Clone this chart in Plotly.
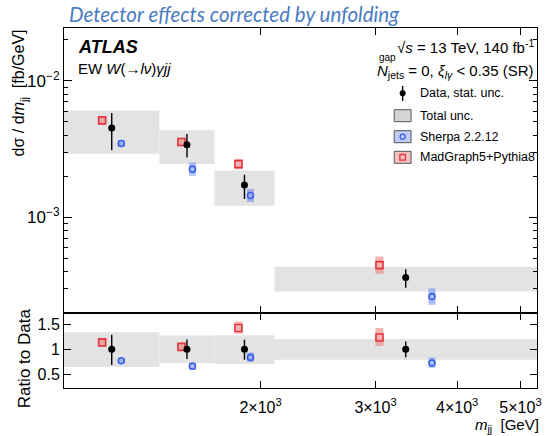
import numpy as np
import plotly.graph_objects as go

# ---------------- data ----------------
bin_edges = [1000, 1400, 1700, 2100, 5300]
data_y = [4.51e-3, 3.40e-3, 1.72e-3, 3.60e-4]
data_stat_up = [5.82e-3, 4.07e-3, 2.05e-3, 4.15e-4]
data_stat_down = [3.09e-3, 2.74e-3, 1.36e-3, 3.03e-4]
data_tot_up = [6.05e-3, 4.34e-3, 2.20e-3, 4.33e-4]
data_tot_down = [2.92e-3, 2.45e-3, 1.21e-3, 2.84e-4]
sherpa_y = [3.47e-3, 2.25e-3, 1.44e-3, 2.61e-4]
sherpa_up = [3.68e-3, 2.52e-3, 1.61e-3, 3.00e-4]
sherpa_down = [3.27e-3, 2.01e-3, 1.29e-3, 2.27e-4]
mg_y = [5.13e-3, 3.56e-3, 2.45e-3, 4.44e-4]
mg_up = [5.44e-3, 3.82e-3, 2.67e-3, 5.13e-4]
mg_down = [4.83e-3, 3.31e-3, 2.25e-3, 3.84e-4]
x_tickvals = [2000, 3000, 4000, 5000]
x_ticktext = ["2×10<sup>3</sup>", "3×10<sup>3</sup>", "4×10<sup>3</sup>", "5×10<sup>3</sup>"]

# ---------------- styling ----------------
W, H = 547, 436
ML, MR, MT, MB = 64, 6, 28, 48
PW, PH = W - ML - MR, H - MT - MB
split = (H - MB - 312.5) / PH
FONT = "Liberation Sans"
GRAY = "#e3e3e3"
RED = "rgb(226,52,58)"
RED_BAND = "rgba(240,110,110,0.5)"
BLUE = "rgb(55,95,235)"
BLUE_BAND = "rgba(95,125,235,0.5)"

def px2x(p):
    return (p - ML) / PW

def px2y(p):
    return (H - MB - p) / PH

arr = np.array
le = np.log10(arr(bin_edges, dtype=float))
cen = (le[:-1] + le[1:]) / 2
wid = le[1:] - le[:-1]
x_data = 10 ** cen
x_mg = 10 ** (cen - 0.1 * wid)
x_sh = 10 ** (cen + 0.1 * wid)

dy = arr(data_y)
fig = go.Figure()

def add_panel(xa, ya, scale):
    # total uncertainty boxes
    for i in range(len(data_y)):
        lo = data_tot_down[i] / scale[i]
        hi = data_tot_up[i] / scale[i]
        e0, e1 = bin_edges[i], bin_edges[i + 1]
        fig.add_trace(go.Scatter(
            x=[e0, e1, e1, e0, e0], y=[lo, lo, hi, hi, lo], mode="lines",
            fill="toself", fillcolor=GRAY, line=dict(width=0, color="rgba(0,0,0,0)"),
            hoverinfo="skip", showlegend=False, xaxis=xa, yaxis=ya))
    s = arr(scale)
    # MadGraph
    my = arr(mg_y) / s
    fig.add_trace(go.Scatter(
        x=x_mg, y=my, mode="markers",
        marker=dict(symbol="square-open", size=7, color=RED, line=dict(width=1.6, color=RED)),
        error_y=dict(type="data", symmetric=False, array=arr(mg_up) / s - my,
                     arrayminus=my - arr(mg_down) / s, thickness=8, width=0, color=RED_BAND),
        showlegend=False, xaxis=xa, yaxis=ya))
    # Sherpa
    sy = arr(sherpa_y) / s
    fig.add_trace(go.Scatter(
        x=x_sh, y=sy, mode="markers",
        marker=dict(symbol="circle-open", size=6, color=BLUE, line=dict(width=1.6, color=BLUE)),
        error_y=dict(type="data", symmetric=False, array=arr(sherpa_up) / s - sy,
                     arrayminus=sy - arr(sherpa_down) / s, thickness=7, width=0, color=BLUE_BAND),
        showlegend=False, xaxis=xa, yaxis=ya))
    # Data
    ddy = dy / s
    fig.add_trace(go.Scatter(
        x=x_data, y=ddy, mode="markers",
        marker=dict(symbol="circle", size=7, color="black"),
        error_y=dict(type="data", symmetric=False, array=arr(data_stat_up) / s - ddy,
                     arrayminus=ddy - arr(data_stat_down) / s, thickness=1.4, width=0, color="black"),
        showlegend=False, xaxis=xa, yaxis=ya))

add_panel("x", "y", [1.0] * 4)
add_panel("x2", "y2", data_y)

xr = [np.log10(bin_edges[0]), np.log10(bin_edges[-1])]
common_x = dict(type="log", range=xr, tickvals=x_tickvals, ticktext=x_ticktext,
                ticks="inside", ticklen=7, tickwidth=1, tickcolor="black",
                showline=True, linecolor="black", linewidth=1, mirror="ticks",
                showgrid=False, zeroline=False)

minor_main = [m * 10 ** e for e in (-4, -3) for m in range(2, 10)] + [2e-2]

fig.update_layout(
    width=W, height=H,
    margin=dict(l=ML, r=MR, t=MT, b=MB),
    paper_bgcolor="white", plot_bgcolor="white",
    font=dict(family=FONT, color="black", size=15),
    xaxis=dict(domain=[0, 1], anchor="y", showticklabels=False, **common_x),
    yaxis=dict(domain=[split, 1], anchor="x", type="log", range=[-3.70, -1.612],
               tickvals=[1e-3, 1e-2], ticktext=["10<sup>−3</sup>", "10<sup>−2</sup>"],
               ticks="inside", ticklen=8, tickcolor="black", tickfont=dict(size=17),
               minor=dict(tickmode="array", tickvals=minor_main, ticks="inside", ticklen=4,
                          tickcolor="black", showgrid=False),
               showline=True, linecolor="black", linewidth=1, mirror="ticks",
               showgrid=False, zeroline=False),
    xaxis2=dict(domain=[0, 1], anchor="y2", matches="x", showticklabels=True,
                tickfont=dict(size=16), ticklabelstandoff=5, ticklabeloverflow="allow",
                **common_x),
    yaxis2=dict(domain=[0, split], anchor="x2", range=[0.226, 1.734],
                tickvals=[0.5, 1, 1.5], ticktext=["0.5", "1", "1.5"],
                ticks="inside", ticklen=7, tickcolor="black", tickfont=dict(size=16),
                showline=True, linecolor="black", linewidth=1, mirror="ticks",
                showgrid=False, zeroline=False),
)

ann = []
def A(text, x, y, size=15, xanchor="left", color="black", family=FONT, angle=0, yanchor="middle"):
    ann.append(dict(text=text, x=x, y=y, xref="paper", yref="paper", showarrow=False,
                    xanchor=xanchor, yanchor=yanchor, textangle=angle,
                    font=dict(size=size, color=color, family=family)))

A("<i>Detector effects corrected by unfolding</i>", px2x(67), px2y(14), size=20.5,
  color="#4a7bc2", family="Lato")
A("<b><i>ATLAS</i></b>", px2x(76), px2y(47), size=18)
A("EW <i>W</i>(→<i>lν</i>)<i>γjj</i>", px2x(76), px2y(68), size=15)
A("√<i>s</i> = 13 TeV, 140 fb<sup>-1</sup>", px2x(540), px2y(46), size=15, xanchor="right")
A("<i>N</i><sub>jets</sub> = 0, <i>ξ</i><sub><i>lγ</i></sub> &lt; 0.35 (SR)", px2x(540), px2y(71),
  size=15, xanchor="right")
A("gap", px2x(380), px2y(57), size=10)
A("dσ / d<i>m</i><sub>jj</sub>  [fb/GeV]", px2x(19), px2y(93), size=16, angle=-90, xanchor="center")
A("Ratio to Data", px2x(24), px2y(358), size=17, angle=-90, xanchor="center")
A("<i>m</i><sub>jj</sub>  [GeV]", px2x(545), px2y(425), size=15, xanchor="right")

# legend
leg_y = [93.3, 115.7, 136.7, 157.3]
leg_txt = ["Data, stat. unc.", "Total unc.", "Sherpa 2.2.12", "MadGraph5+Pythia8"]
for t, yy in zip(leg_txt, leg_y):
    A(t, px2x(421), px2y(yy), size=12.5)

shapes = []
cx = 405.5
shapes.append(dict(type="line", xref="paper", yref="paper", x0=px2x(cx), x1=px2x(cx),
                   y0=px2y(86), y1=px2y(101), line=dict(color="black", width=1.4)))
shapes.append(dict(type="circle", xref="paper", yref="paper", x0=px2x(cx - 3), x1=px2x(cx + 3),
                   y0=px2y(leg_y[0] - 3), y1=px2y(leg_y[0] + 3), fillcolor="black", line=dict(width=0)))
for yy, fill in zip(leg_y[1:], ["#d4d4d4", "#c3cbf4", "#f4c0c0"]):
    shapes.append(dict(type="rect", xref="paper", yref="paper", x0=px2x(397), x1=px2x(414),
                       y0=px2y(yy - 6), y1=px2y(yy + 6), fillcolor=fill,
                       line=dict(color="#555555", width=1)))
shapes.append(dict(type="circle", xref="paper", yref="paper", x0=px2x(cx - 2.5), x1=px2x(cx + 2.5),
                   y0=px2y(leg_y[2] - 2.5), y1=px2y(leg_y[2] + 2.5), line=dict(color=BLUE, width=1.3)))
shapes.append(dict(type="rect", xref="paper", yref="paper", x0=px2x(cx - 2.8), x1=px2x(cx + 2.8),
                   y0=px2y(leg_y[3] - 2.8), y1=px2y(leg_y[3] + 2.8), line=dict(color=RED, width=1.3)))

fig.update_layout(annotations=ann, shapes=shapes)
fig.write_html("out.html")
